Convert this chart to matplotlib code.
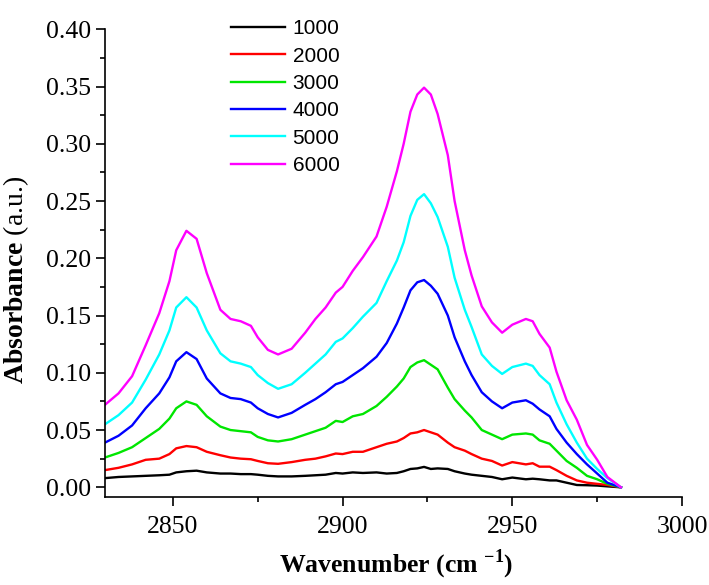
import matplotlib
matplotlib.use("Agg")
import matplotlib.pyplot as plt
from matplotlib.ticker import MultipleLocator

plt.rcParams["font.family"] = "Liberation Serif"
plt.rcParams["mathtext.fontset"] = "custom"
plt.rcParams["mathtext.rm"] = "Liberation Serif"
plt.rcParams["mathtext.bf"] = "Liberation Serif:bold"

wavenumber = [2830, 2834, 2838, 2842, 2846, 2849, 2851, 2854, 2857, 2860,
              2864, 2867, 2870, 2873, 2875, 2878, 2881, 2885, 2889, 2892,
              2895, 2898, 2900, 2903, 2906, 2910, 2913, 2916, 2918, 2920,
              2922, 2924, 2926, 2928, 2931, 2933, 2936, 2938, 2941, 2944,
              2947, 2950, 2954, 2956, 2958, 2961, 2963, 2966, 2969, 2972,
              2975, 2978, 2982]

a1000 = [0.008, 0.009, 0.0095, 0.010, 0.0105, 0.011, 0.013, 0.014, 0.0145, 0.013,
         0.012, 0.012, 0.0115, 0.0115, 0.011, 0.010, 0.0095, 0.0095, 0.010, 0.0105,
         0.011, 0.0125, 0.012, 0.013, 0.0125, 0.013, 0.012, 0.0125, 0.014, 0.016,
         0.0165, 0.0178, 0.016, 0.0165, 0.016, 0.014, 0.012, 0.011, 0.010, 0.009,
         0.007, 0.0085, 0.007, 0.0075, 0.007, 0.006, 0.006, 0.004, 0.002, 0.0018,
         0.0015, 0.0008, 0.0]

a2000 = [0.015, 0.017, 0.020, 0.024, 0.025, 0.029, 0.034, 0.036, 0.035, 0.031,
         0.028, 0.026, 0.025, 0.0245, 0.023, 0.021, 0.0205, 0.022, 0.024, 0.025,
         0.027, 0.0295, 0.029, 0.031, 0.031, 0.035, 0.038, 0.040, 0.043, 0.047,
         0.048, 0.050, 0.048, 0.046, 0.039, 0.035, 0.032, 0.029, 0.025, 0.023,
         0.019, 0.022, 0.020, 0.021, 0.018, 0.018, 0.015, 0.010, 0.006, 0.004,
         0.003, 0.002, 0.0]

a3000 = [0.026, 0.030, 0.035, 0.043, 0.051, 0.060, 0.069, 0.075, 0.072, 0.062,
         0.053, 0.050, 0.049, 0.048, 0.044, 0.041, 0.040, 0.042, 0.046, 0.049,
         0.052, 0.058, 0.057, 0.062, 0.064, 0.071, 0.079, 0.088, 0.095, 0.105,
         0.109, 0.111, 0.107, 0.103, 0.087, 0.077, 0.067, 0.061, 0.050, 0.046,
         0.042, 0.046, 0.047, 0.046, 0.041, 0.038, 0.032, 0.023, 0.017, 0.010,
         0.007, 0.003, 0.0]

a4000 = [0.039, 0.045, 0.054, 0.069, 0.082, 0.096, 0.110, 0.118, 0.112, 0.095,
         0.082, 0.078, 0.077, 0.074, 0.069, 0.064, 0.061, 0.065, 0.072, 0.077,
         0.083, 0.090, 0.092, 0.098, 0.104, 0.114, 0.126, 0.143, 0.157, 0.172,
         0.179, 0.181, 0.176, 0.169, 0.150, 0.131, 0.110, 0.098, 0.083, 0.075,
         0.069, 0.074, 0.076, 0.073, 0.068, 0.062, 0.051, 0.039, 0.029, 0.020,
         0.012, 0.004, 0.0]

a5000 = [0.055, 0.063, 0.074, 0.094, 0.116, 0.137, 0.157, 0.166, 0.157, 0.137,
         0.117, 0.110, 0.108, 0.105, 0.098, 0.091, 0.086, 0.090, 0.100, 0.108,
         0.116, 0.127, 0.130, 0.139, 0.149, 0.161, 0.180, 0.198, 0.214, 0.237,
         0.251, 0.256, 0.248, 0.236, 0.210, 0.183, 0.155, 0.140, 0.116, 0.106,
         0.099, 0.105, 0.108, 0.106, 0.098, 0.090, 0.074, 0.055, 0.039, 0.025,
         0.016, 0.008, 0.0]

a6000 = [0.072, 0.082, 0.097, 0.124, 0.152, 0.180, 0.207, 0.224, 0.217, 0.187,
         0.155, 0.147, 0.145, 0.141, 0.131, 0.120, 0.116, 0.121, 0.135, 0.147,
         0.157, 0.170, 0.175, 0.189, 0.201, 0.219, 0.245, 0.276, 0.300, 0.328,
         0.343, 0.349, 0.343, 0.326, 0.290, 0.250, 0.207, 0.185, 0.158, 0.144,
         0.135, 0.142, 0.147, 0.145, 0.134, 0.122, 0.101, 0.076, 0.059, 0.037,
         0.024, 0.009, 0.0]

labels = ["1000", "2000", "3000", "4000", "5000", "6000"]
colors = ["#000000", "#ff0000", "#00e600", "#0000ff", "#00ffff", "#ff00ff"]
series = [a1000, a2000, a3000, a4000, a5000, a6000]

fig = plt.figure(figsize=(7.09, 5.85), dpi=100)
ax = fig.add_axes([0.148, 0.150, 0.814, 0.800])

for y, c, lab in zip(series, colors, labels):
    ax.plot(wavenumber, y, color=c, lw=1.7, label=lab)

ax.set_xlim(2830, 3000)
ax.set_ylim(-0.0087, 0.40)
ax.xaxis.set_major_locator(MultipleLocator(50))
ax.xaxis.set_minor_locator(MultipleLocator(25))
ax.yaxis.set_major_locator(MultipleLocator(0.05))
ax.yaxis.set_minor_locator(MultipleLocator(0.025))
ax.yaxis.set_major_formatter(plt.FuncFormatter(lambda v, p: f"{v:.2f}"))

ax.spines["top"].set_visible(False)
ax.spines["right"].set_visible(False)
ax.spines["left"].set_linewidth(1.2)
ax.spines["bottom"].set_linewidth(1.2)
ax.tick_params(which="major", direction="out", length=6.5, width=1.2, labelsize=18.5)
ax.tick_params(axis="x", which="major", pad=7)
ax.tick_params(which="minor", direction="out", length=3.5, width=1.2)

ax.set_xlabel(r"Wavenumber (cm $^{\mathbf{-1}}$)", fontsize=18.5, fontweight="bold")
ax.xaxis.set_label_coords(0.505, -0.108)
ax.set_ylabel(r"$\mathbf{Absorbance}$ (a.u.)", fontsize=20)
ax.yaxis.set_label_coords(-0.128, 0.464)

leg = ax.legend(loc="upper left", bbox_to_anchor=(0.326, 0.967), bbox_transform=fig.transFigure,
                frameon=False, borderpad=0, borderaxespad=0, handlelength=2.6,
                handletextpad=0.35, labelspacing=0.4,
                prop={"family": "Liberation Sans", "size": 15})

fig.savefig("out.png", dpi=100)
